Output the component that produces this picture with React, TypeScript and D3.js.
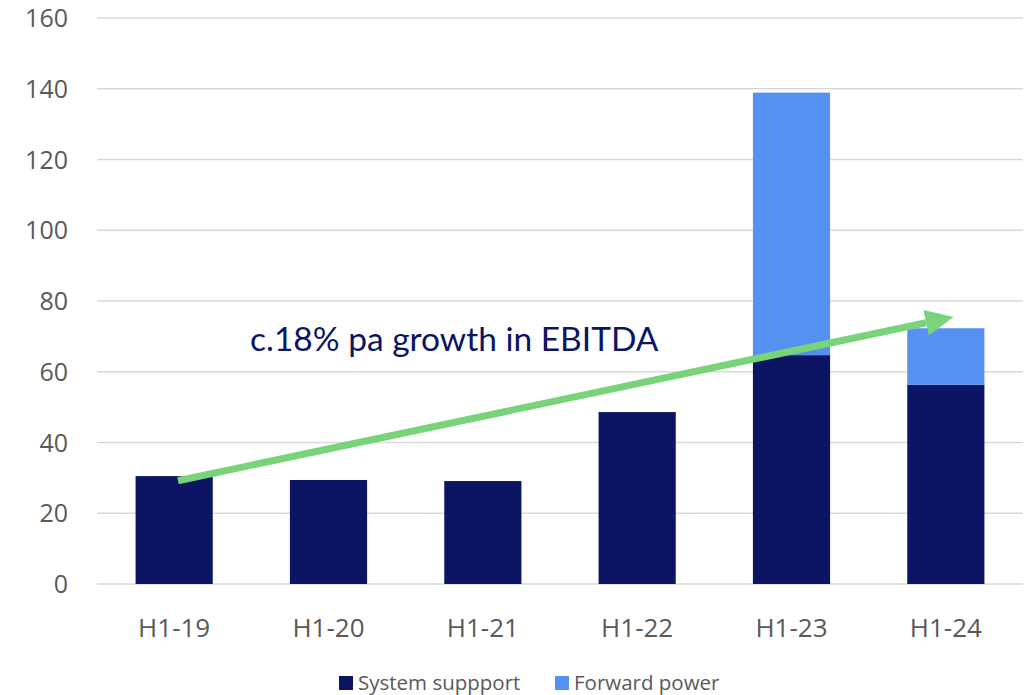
import React from 'react';
import * as d3 from 'd3';

const categories = ['H1-19', 'H1-20', 'H1-21', 'H1-22', 'H1-23', 'H1-24'];
const systemSupport = [30.5, 29.4, 29.1, 48.6, 64.7, 56.3];
const forwardPower = [0, 0, 0, 0, 74.2, 16.0];
const yTicks = [0, 20, 40, 60, 80, 100, 120, 140, 160];
const seriesNames = ['System suppport', 'Forward power'];
const seriesColors = ['#0B1563', '#5591F1'];
const growthLabel = 'c.18% pa growth in EBITDA';
// arrow annotation: [category, value] start and end
const arrowFrom: [string, number] = ['H1-19', 29.2];
const arrowTo: [string, number] = ['H1-24', 75.5];

const W = 1026;
const H = 695;
const margin = { top: 18, right: 3, bottom: 111, left: 97 };

export default function App() {
  const innerW = W - margin.left - margin.right;
  const innerH = H - margin.top - margin.bottom;

  const x = d3.scaleBand().domain(categories).range([0, innerW]).paddingInner(0.5).paddingOuter(0.25);
  const y = d3.scaleLinear().domain([0, 160]).range([innerH, 0]);

  const rows = categories.map((c, i) => ({ cat: c, s0: systemSupport[i], s1: forwardPower[i] }));
  const stacked = d3.stack<any>().keys(['s0', 's1'])(rows);

  const ax0 = x(arrowFrom[0])! + x.bandwidth() * 0.55;
  const ay0 = y(arrowFrom[1]);
  const ax1 = x(arrowTo[0])! + x.bandwidth() * 0.6;
  const ay1 = y(arrowTo[1]);
  const ang = Math.atan2(ay1 - ay0, ax1 - ax0);
  const headLen = 28;
  const headW = 13;
  const bx = ax1 - headLen * Math.cos(ang);
  const by = ay1 - headLen * Math.sin(ang);
  const px = -Math.sin(ang);
  const py = Math.cos(ang);

  return (
    <div style={{ position: 'absolute', left: 0, top: 0 }}>
      <svg width={W} height={H} style={{ display: 'block', background: '#fff' }}>
        <g transform={`translate(${margin.left},${margin.top})`}>
          {yTicks.map(t => (
            <g key={t}>
              <line x1={0} x2={innerW} y1={y(t)} y2={y(t)} stroke="#D9D9D9" strokeWidth={1.5} />
              <text x={-29} y={y(t)} dy="0.36em" textAnchor="end" fontFamily="Open Sans" fontSize={25} fill="#595959">
                {t}
              </text>
            </g>
          ))}
          {stacked.map((layer, li) => (
            <g key={li} fill={seriesColors[li]}>
              {layer.map((d, i) =>
                d[1] - d[0] > 0 ? (
                  <rect key={i} x={x(categories[i])} width={x.bandwidth()} y={y(d[1])} height={y(d[0]) - y(d[1])} />
                ) : null
              )}
            </g>
          ))}
          {categories.map(c => (
            <text key={c} x={x(c)! + x.bandwidth() / 2} y={innerH + 53} textAnchor="middle" fontFamily="Open Sans" fontSize={26} fill="#595959">
              {c}
            </text>
          ))}
          <line x1={ax0} y1={ay0} x2={bx} y2={by} stroke="#78D37A" strokeWidth={7} />
          <polygon
            points={`${ax1},${ay1} ${bx + px * headW},${by + py * headW} ${bx - px * headW},${by - py * headW}`}
            fill="#78D37A"
          />
          <text x={153} y={333} fontFamily="Lato" fontSize={33.5} fill="#0B1563">
            {growthLabel}
          </text>
        </g>
        <g transform="translate(339,683)" fontFamily="Open Sans" fontSize={20.5} fill="#595959">
          {seriesNames.map((n, i) => (
            <g key={n} transform={`translate(${i * 216},0)`}>
              <rect x={0} y={-7} width={14} height={14} fill={seriesColors[i]} />
              <text x={19} y={0} dy="0.35em">{n}</text>
            </g>
          ))}
        </g>
      </svg>
    </div>
  );
}
